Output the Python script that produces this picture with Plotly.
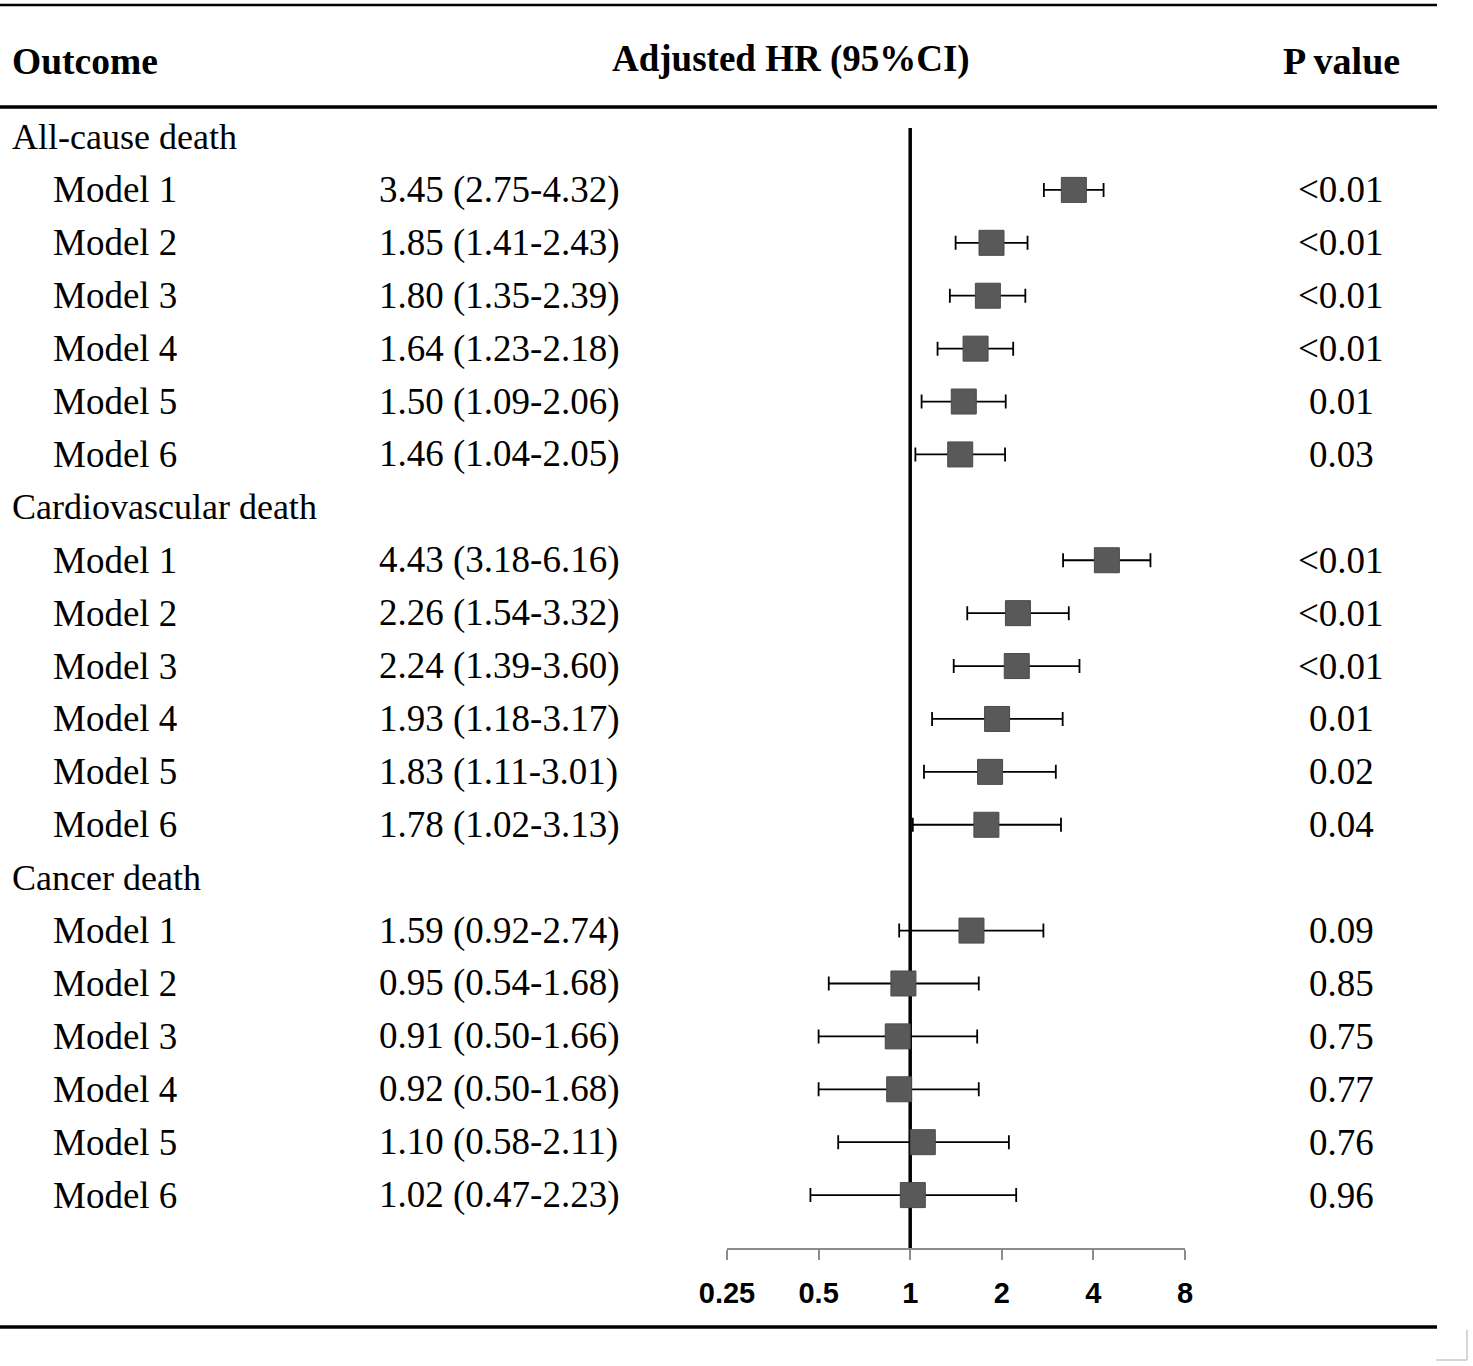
import numpy as np
import plotly.graph_objects as go

# --- data ---
groups = ["All-cause death", "Cardiovascular death", "Cancer death"]
models = ["Model 1", "Model 2", "Model 3", "Model 4", "Model 5", "Model 6"]

hr = [3.45, 1.85, 1.80, 1.64, 1.50, 1.46,
      4.43, 2.26, 2.24, 1.93, 1.83, 1.78,
      1.59, 0.95, 0.91, 0.92, 1.10, 1.02]
lower = [2.75, 1.41, 1.35, 1.23, 1.09, 1.04,
         3.18, 1.54, 1.39, 1.18, 1.11, 1.02,
         0.92, 0.54, 0.50, 0.50, 0.58, 0.47]
upper = [4.32, 2.43, 2.39, 2.18, 2.06, 2.05,
         6.16, 3.32, 3.60, 3.17, 3.01, 3.13,
         2.74, 1.68, 1.66, 1.68, 2.11, 2.23]
pvals = ["<0.01", "<0.01", "<0.01", "<0.01", "0.01", "0.03",
         "<0.01", "<0.01", "<0.01", "0.01", "0.02", "0.04",
         "0.09", "0.85", "0.75", "0.77", "0.76", "0.96"]

tick_vals = [0.25, 0.5, 1, 2, 4, 8]
tick_text = ["0.25", "0.5", "1", "2", "4", "8"]

W, H = 1473, 1366
serif = "Liberation Serif, Times New Roman, serif"


def px(x):
    return x / W


def py(y):
    return 1 - y / H


# row positions: group label row then its six models
rows = []
group_rows = []
r = 0
for g in groups:
    group_rows.append(r)
    r += 1
    for m in models:
        rows.append(r)
        r += 1
row_models = models * len(groups)

fig = go.Figure()

# reference line at HR = 1
fig.add_trace(go.Scatter(
    x=[1, 1], y=[-0.17, 21], mode="lines",
    line=dict(color="black", width=3.5),
    hoverinfo="skip", showlegend=False
))

hr_a = np.array(hr)
fig.add_trace(go.Scatter(
    x=hr, y=rows, mode="markers",
    marker=dict(symbol="square", size=25, color="#595959",
                line=dict(color="#4a4a4a", width=1)),
    error_x=dict(type="data", symmetric=False,
                 array=list(np.array(upper) - hr_a),
                 arrayminus=list(hr_a - np.array(lower)),
                 color="black", thickness=1.8, width=7),
    cliponaxis=False, showlegend=False
))

ann = []
# header
ann.append(dict(x=px(10), y=py(61), text="<b>Outcome</b>", xanchor="left", size=37.5))
ann.append(dict(x=px(791), y=py(59), text="<b>Adjusted HR (95%CI)</b>", xanchor="center", size=37))
ann.append(dict(x=px(1341), y=py(61), text="<b>P value</b>", xanchor="center", size=38))

for g, gr in zip(groups, group_rows):
    ann.append(dict(x=px(10), y=gr, yref="y", text=g, xanchor="left", size=36))

for i, yy in enumerate(rows):
    ann.append(dict(x=px(51), y=yy, yref="y", text=row_models[i], xanchor="left"))
    ann.append(dict(x=px(377), y=yy, yref="y",
                    text=f"{hr[i]:.2f} ({lower[i]:.2f}-{upper[i]:.2f})", xanchor="left"))
    ann.append(dict(x=px(1341), y=yy, yref="y", text=pvals[i], xanchor="center"))

for a in ann:
    a.setdefault("yref", "paper")
    a["xref"] = "paper"
    a["yanchor"] = "middle"
    a["showarrow"] = False
    a["font"] = dict(family=serif, size=a.pop("size", 37), color="black")

shapes = [
    dict(type="line", xref="paper", yref="paper", x0=0, x1=px(1437),
         y0=py(5), y1=py(5), line=dict(color="black", width=2.5)),
    dict(type="line", xref="paper", yref="paper", x0=0, x1=px(1437),
         y0=py(107), y1=py(107), line=dict(color="black", width=3.5)),
    dict(type="line", xref="paper", yref="paper", x0=0, x1=px(1437),
         y0=py(1327), y1=py(1327), line=dict(color="black", width=3.5)),
    dict(type="line", xref="paper", yref="paper", x0=px(1467), x1=px(1467),
         y0=py(1330), y1=py(1360), line=dict(color="#c8c8c8", width=1.5)),
    dict(type="line", xref="paper", yref="paper", x0=px(1436), x1=px(1467),
         y0=py(1360), y1=py(1360), line=dict(color="#c8c8c8", width=1.5)),
]

fig.update_layout(
    width=W, height=H,
    margin=dict(l=0, r=0, t=0, b=0, pad=0),
    paper_bgcolor="white", plot_bgcolor="white",
    annotations=ann, shapes=shapes,
    xaxis=dict(
        type="log", domain=[px(727), px(1185)],
        range=[np.log10(0.25), np.log10(8)],
        tickvals=tick_vals, ticktext=tick_text,
        showgrid=False, zeroline=False, automargin=False,
        showline=True, linecolor="#8c8c8c", linewidth=2,
        ticks="outside", ticklen=10, tickwidth=2, tickcolor="#8c8c8c",
        ticklabelstandoff=8,
        tickfont=dict(family="Liberation Sans, Arial, sans-serif", size=29,
                      color="black", weight="bold"),
    ),
    yaxis=dict(
        domain=[py(1248), 1], range=[21, -137 / 52.9],
        showgrid=False, zeroline=False, showticklabels=False,
        showline=False, ticks="", automargin=False,
    ),
)

# drop the default page margin so the figure sits at the window's corner
fig.write_html("out.html", config={"displayModeBar": False},
               post_script="document.body.style.margin='0';")
